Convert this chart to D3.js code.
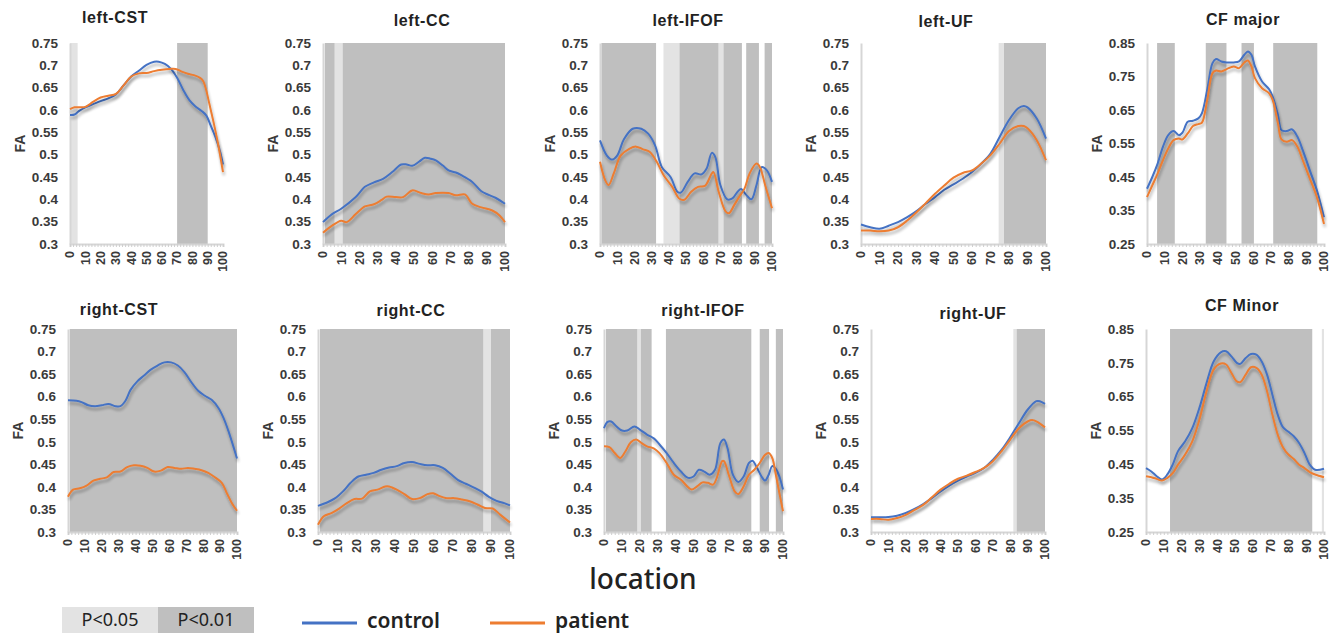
<!DOCTYPE html>
<html>
<head>
<meta charset="utf-8">
<script src="https://cdn.jsdelivr.net/npm/d3@7/dist/d3.min.js"></script>
<style>
  html, body { margin: 0; padding: 0; background: #fff; }
  svg { display: block; }
</style>
</head>
<body>
<svg id="chart" width="1338" height="635"></svg>
<script>
// ---- FA profiles along each tract: [location, FA] ----
const leftCST_control = [[0,.589],[3,.59],[6,.598],[10,.606],[15,.613],[20,.62],[25,.626],[30,.635],[35,.655],[40,.675],[45,.688],[50,.701],[55,.708],[58,.708],[62,.703],[66,.692],[70,.672],[74,.645],[78,.622],[82,.608],[86,.598],[89,.588],[92,.565],[95,.54],[98,.508],[100,.478]];
const leftCST_patient = [[0,.602],[3,.606],[7,.606],[10,.607],[15,.618],[20,.628],[25,.632],[30,.636],[35,.655],[40,.675],[45,.682],[50,.683],[55,.687],[60,.69],[65,.692],[69,.692],[73,.686],[77,.681],[81,.678],[85,.672],[87,.665],[89,.645],[91,.615],[94,.57],[97,.52],[100,.461]];

const leftCC_control = [[0,.349],[5,.367],[10,.379],[18,.405],[23,.428],[28,.438],[33,.446],[38,.461],[43,.478],[46,.478],[49,.475],[53,.485],[56,.493],[59,.491],[62,.487],[66,.475],[69,.465],[73,.46],[76,.454],[82,.439],[87,.418],[91,.41],[95,.403],[100,.39]];
const leftCC_patient = [[0,.325],[5,.341],[10,.352],[13,.349],[18,.367],[23,.384],[28,.389],[32,.398],[35,.406],[40,.405],[44,.405],[49,.42],[54,.414],[58,.411],[62,.414],[69,.414],[73,.409],[78,.411],[82,.39],[87,.382],[93,.375],[97,.364],[100,.349]];

const leftIFOF_control = [[0,.532],[4,.498],[7,.489],[10,.498],[14,.535],[19,.558],[24,.558],[28,.547],[32,.521],[36,.472],[41,.45],[45,.417],[47,.415],[51,.439],[55,.458],[59,.456],[62,.469],[65,.504],[67,.495],[70,.432],[74,.4],[77,.402],[80,.417],[82,.423],[85,.41],[88,.4],[91,.432],[94,.472],[97,.465],[100,.439]];
const leftIFOF_patient = [[0,.484],[3,.443],[5,.432],[8,.458],[12,.498],[17,.513],[21,.518],[25,.512],[29,.506],[33,.484],[37,.454],[42,.428],[46,.402],[49,.399],[53,.417],[57,.428],[61,.43],[65,.458],[66,.461],[69,.417],[73,.373],[75,.369],[78,.387],[81,.406],[84,.424],[87,.458],[91,.48],[93,.472],[96,.432],[100,.38]];

const leftUF_control = [[0,.3435],[5,.3375],[10,.334],[15,.341],[20,.349],[25,.36],[30,.3735],[35,.39],[40,.405],[45,.4215],[50,.4335],[55,.446],[60,.461],[65,.48],[70,.5025],[75,.54],[80,.5775],[85,.604],[88,.609],[90,.606],[95,.581],[100,.536]];
const leftUF_patient = [[0,.33],[5,.33],[10,.3285],[15,.33],[20,.3375],[25,.3525],[30,.371],[35,.3915],[40,.4125],[45,.431],[50,.4485],[55,.459],[60,.465],[65,.48],[70,.499],[75,.525],[80,.553],[85,.564],[88,.564],[90,.559],[95,.5325],[100,.4875]];

const cfMajor_control = [[0,.415],[3,.45],[6,.49],[9,.54],[12,.575],[15,.587],[18,.575],[20,.582],[23,.615],[26,.618],[29,.625],[31,.64],[34,.71],[37,.79],[39,.802],[42,.795],[45,.792],[49,.792],[52,.795],[55,.815],[57,.825],[59,.815],[61,.78],[65,.735],[69,.712],[71,.69],[74,.635],[76,.59],[79,.587],[82,.592],[85,.57],[88,.53],[92,.47],[96,.41],[100,.33]];
const cfMajor_patient = [[0,.39],[3,.425],[6,.46],[9,.5],[12,.535],[15,.56],[18,.565],[20,.562],[23,.58],[26,.602],[29,.608],[31,.612],[34,.68],[37,.76],[39,.768],[42,.765],[45,.772],[49,.78],[52,.775],[55,.792],[57,.798],[59,.78],[61,.745],[65,.715],[69,.7],[71,.68],[74,.61],[76,.562],[79,.555],[82,.56],[85,.54],[88,.5],[92,.445],[96,.39],[100,.31]];

const rightCST_control = [[0,.592],[5,.591],[8,.588],[12,.581],[16,.579],[20,.581],[24,.584],[28,.579],[31,.579],[34,.591],[37,.615],[41,.634],[45,.647],[49,.66],[53,.669],[57,.676],[61,.676],[65,.669],[69,.654],[73,.632],[77,.613],[81,.602],[85,.593],[89,.575],[92,.553],[95,.523],[100,.463]];
const rightCST_patient = [[0,.378],[3,.394],[7,.397],[11,.403],[15,.414],[19,.418],[23,.421],[27,.433],[31,.434],[35,.444],[39,.448],[43,.447],[47,.442],[51,.434],[55,.436],[59,.444],[63,.442],[67,.44],[71,.442],[75,.44],[79,.437],[83,.431],[87,.421],[91,.409],[94,.386],[97,.364],[100,.347]];

const rightCC_control = [[0,.358],[5,.366],[9,.375],[13,.39],[17,.409],[21,.423],[25,.427],[29,.431],[33,.438],[37,.443],[41,.446],[45,.453],[49,.455],[53,.451],[57,.448],[61,.448],[65,.442],[69,.429],[73,.415],[77,.407],[81,.399],[85,.39],[89,.378],[93,.369],[97,.364],[100,.359]];
const rightCC_patient = [[0,.316],[3,.335],[7,.342],[11,.352],[15,.364],[19,.373],[23,.374],[27,.39],[31,.394],[35,.401],[37,.401],[41,.394],[45,.384],[49,.373],[53,.375],[57,.384],[60,.386],[63,.38],[67,.375],[71,.375],[75,.372],[79,.368],[83,.361],[87,.353],[91,.352],[95,.338],[100,.321]];

const rightIFOF_control = [[0,.53],[2,.544],[4,.545],[7,.534],[10,.525],[13,.525],[17,.534],[20,.527],[24,.516],[28,.507],[31,.494],[35,.475],[39,.453],[43,.434],[47,.42],[50,.423],[53,.438],[56,.434],[59,.427],[62,.438],[65,.497],[67,.505],[69,.486],[72,.427],[75,.411],[78,.423],[81,.453],[83,.458],[85,.446],[88,.423],[90,.414],[92,.427],[94,.446],[96,.44],[98,.423],[100,.394]];
const rightIFOF_patient = [[0,.49],[3,.488],[6,.475],[9,.464],[12,.479],[15,.499],[18,.505],[21,.497],[24,.49],[28,.485],[31,.475],[35,.453],[39,.427],[43,.416],[47,.399],[49,.394],[52,.401],[55,.41],[58,.409],[61,.405],[63,.42],[66,.457],[67,.457],[70,.423],[73,.39],[75,.384],[78,.401],[81,.427],[84,.438],[87,.453],[90,.471],[92,.475],[94,.464],[96,.427],[98,.386],[100,.346]];

const rightUF_control = [[0,.3325],[5,.3325],[10,.333],[15,.336],[20,.342],[25,.351],[30,.362],[35,.375],[40,.39],[45,.403],[50,.414],[55,.423],[60,.431],[65,.442],[70,.46],[75,.482],[80,.51],[85,.541],[90,.571],[95,.59],[97,.59],[100,.584]];
const rightUF_patient = [[0,.329],[5,.329],[10,.327],[15,.331],[20,.338],[25,.349],[30,.36],[35,.377],[40,.394],[45,.407],[50,.418],[55,.425],[60,.433],[65,.442],[70,.457],[75,.479],[80,.505],[85,.53],[90,.545],[93,.548],[95,.545],[100,.532]];

const cfMinor_control = [[0,.439],[3,.429],[6,.415],[9,.405],[12,.42],[15,.449],[18,.489],[22,.518],[26,.557],[30,.617],[34,.69],[38,.754],[42,.781],[45,.784],[48,.769],[51,.75],[53,.747],[56,.764],[59,.776],[62,.774],[65,.754],[68,.715],[71,.656],[74,.597],[77,.559],[80,.546],[83,.533],[86,.513],[89,.484],[92,.449],[95,.434],[100,.437]];
const cfMinor_patient = [[0,.415],[3,.412],[6,.407],[9,.402],[12,.41],[15,.424],[18,.449],[22,.479],[26,.518],[30,.582],[34,.666],[38,.73],[42,.748],[45,.745],[48,.72],[51,.695],[53,.693],[56,.715],[59,.737],[62,.735],[65,.715],[68,.666],[71,.597],[74,.538],[77,.5],[80,.479],[83,.466],[86,.449],[89,.439],[92,.427],[95,.42],[100,.412]];

// ---- significant segments along each tract: [from, to] ----
const leftCST_p05 = [[0,5]];          const leftCST_p01 = [[70,90]];
const leftCC_p05 = [[6.4,10.8]];      const leftCC_p01 = [[1,6.4],[10.8,100]];
const leftIFOF_p05 = [[36.9,46.2],[68.9,71.8]];
const leftIFOF_p01 = [[0.8,32.6],[46.2,68.9],[71.8,82.5],[85,92.4],[95.7,100]];
const leftUF_p05 = [[74.4,77.3]];     const leftUF_p01 = [[77.3,100]];
const cfMajor_p05 = [];               const cfMajor_p01 = [[5.7,15.7],[33.2,44.9],[53.4,60.4],[71.3,96.2]];
const rightCST_p05 = [];              const rightCST_p01 = [[1,100]];
const rightCC_p05 = [[86.1,90.1]];    const rightCC_p01 = [[1,86.1],[90.1,100]];
const rightIFOF_p05 = [[18.6,20.6]];
const rightIFOF_p01 = [[1.1,18.6],[20.6,26.6],[34.6,82.3],[87,92.2],[96,100]];
const rightUF_p05 = [[81.8,83.7]];    const rightUF_p01 = [[83.7,100]];
const cfMinor_p05 = [[98.8,100]];     const cfMinor_p01 = [[13.5,93.4]];

// ---- axes ----
const xTicks = [0,10,20,30,40,50,60,70,80,90,100];
const faTicksTract = [0.3,0.35,0.4,0.45,0.5,0.55,0.6,0.65,0.7,0.75];
const faTicksForceps = [0.25,0.35,0.45,0.55,0.65,0.75,0.85];

const titles = ["left-CST","left-CC","left-IFOF","left-UF","CF major",
                "right-CST","right-CC","right-IFOF","right-UF","CF Minor"];
const groups = ["control","patient"];
const sigLabels = ["P<0.05","P<0.01"];

const controls = [leftCST_control,leftCC_control,leftIFOF_control,leftUF_control,cfMajor_control,
                  rightCST_control,rightCC_control,rightIFOF_control,rightUF_control,cfMinor_control];
const patients = [leftCST_patient,leftCC_patient,leftIFOF_patient,leftUF_patient,cfMajor_patient,
                  rightCST_patient,rightCC_patient,rightIFOF_patient,rightUF_patient,cfMinor_patient];
const p05s = [leftCST_p05,leftCC_p05,leftIFOF_p05,leftUF_p05,cfMajor_p05,
              rightCST_p05,rightCC_p05,rightIFOF_p05,rightUF_p05,cfMinor_p05];
const p01s = [leftCST_p01,leftCC_p01,leftIFOF_p01,leftUF_p01,cfMajor_p01,
              rightCST_p01,rightCC_p01,rightIFOF_p01,rightUF_p01,cfMinor_p01];

// ---- layout of the 2 x 5 grid (pixel boxes of each plot area) ----
const rowsY = [[43,244],[329,532]];
const colsX = [[[70,223],[323,505],[600,772],[861,1046],[1147,1324]],
               [[68,237],[318,510],[604,783],[871,1045],[1146,1324]]];
const titlePos = [[115,23],[422,26],[688,26],[946,27],[1243,25],
                  [119,315],[411,316],[703,316],[973,319],[1242,311]];

const COLORS = { control: "#4472C4", patient: "#ED7D31", p01: "#bfbfbf", p05: "#e3e3e3",
                 axis: "#d6d6d6", text: "#3a3a3a" };
const FONT = "'Liberation Sans', Arial, sans-serif";

const svg = d3.select("#chart");

// soft drop shadow under the profile lines
const defs = svg.append("defs");
const f = defs.append("filter").attr("id","lineShadow")
  .attr("filterUnits","userSpaceOnUse").attr("x",0).attr("y",0).attr("width",1338).attr("height",635);
f.append("feGaussianBlur").attr("in","SourceAlpha").attr("stdDeviation",1.7).attr("result","b");
f.append("feOffset").attr("in","b").attr("dx",1).attr("dy",2.5).attr("result","o");
f.append("feComponentTransfer").attr("in","o").attr("result","s")
  .append("feFuncA").attr("type","linear").attr("slope",0.32);
const fm = f.append("feMerge");
fm.append("feMergeNode").attr("in","s");
fm.append("feMergeNode").attr("in","SourceGraphic");

titles.forEach((title, i) => {
  const row = Math.floor(i / 5), col = i % 5;
  const [y0, y1] = rowsY[row];
  const [x0, x1] = colsX[row][col];
  const forceps = (col === 4);
  const yTicks = forceps ? faTicksForceps : faTicksTract;

  const x = d3.scaleLinear().domain([0,100]).range([x0, x1]);
  const y = d3.scaleLinear().domain(d3.extent(yTicks)).range([y1, y0]);

  const g = svg.append("g");

  // significance shading
  g.selectAll("rect.p05").data(p05s[i]).join("rect")
    .attr("x", d => x(d[0])).attr("width", d => x(d[1]) - x(d[0]))
    .attr("y", y0).attr("height", y1 - y0).attr("fill", COLORS.p05);
  g.selectAll("rect.p01").data(p01s[i]).join("rect")
    .attr("x", d => x(d[0])).attr("width", d => x(d[1]) - x(d[0]))
    .attr("y", y0).attr("height", y1 - y0).attr("fill", COLORS.p01);

  // y axis: light rule with labels only
  const yAxis = d3.axisLeft(y).tickValues(yTicks).tickSize(0).tickPadding(12)
    .tickFormat(d => String(+d.toFixed(2)));
  const ya = g.append("g").attr("transform", `translate(${x0},0)`).call(yAxis);
  ya.select(".domain").attr("stroke", COLORS.axis).attr("stroke-width", 2);
  ya.selectAll("text").attr("font-family", FONT).attr("font-weight", "bold")
    .attr("font-size", 13.5).attr("fill", COLORS.text);

  // x axis: light baseline with fine ticks, rotated labels
  const minor = d3.range(0, 101, 2);
  const xa = g.append("g").attr("transform", `translate(0,${y1})`)
    .call(d3.axisBottom(x).tickValues(minor).tickSize(3).tickFormat(""));
  xa.select(".domain").attr("stroke", COLORS.axis).attr("stroke-width", 2);
  xa.selectAll(".tick line").attr("stroke", "#cfcfcf");
  g.selectAll("text.xlab").data(xTicks).join("text")
    .attr("class","xlab")
    .attr("transform", d => `translate(${x(d)},${y1 + 7}) rotate(-90)`)
    .attr("text-anchor","end").attr("dy","0.35em")
    .attr("font-family", FONT).attr("font-weight","bold").attr("font-size", 12.5)
    .attr("fill", COLORS.text).text(d => d);

  // FA label
  g.append("text")
    .attr("transform", `translate(${x0 - 50},${(y0 + y1) / 2}) rotate(-90)`)
    .attr("text-anchor","middle").attr("dy","0.35em")
    .attr("font-family", FONT).attr("font-weight","bold").attr("font-size", 14)
    .attr("fill", COLORS.text).text("FA");

  // title
  g.append("text").attr("x", titlePos[i][0]).attr("y", titlePos[i][1])
    .attr("text-anchor","middle").attr("font-family", FONT).attr("font-weight","bold")
    .attr("font-size", 16).attr("letter-spacing", 0.6).attr("fill", "#222").text(title);

  // profiles
  const line = d3.line().x(d => x(d[0])).y(d => y(d[1])).curve(d3.curveCatmullRom.alpha(0.5));
  [[controls[i], COLORS.control], [patients[i], COLORS.patient]].forEach(([data, c]) => {
    g.append("path").datum(data).attr("d", line)
      .attr("fill","none").attr("stroke", c).attr("stroke-width", 2)
      .attr("stroke-linejoin","round").attr("filter","url(#lineShadow)");
  });
});

// shared x label
svg.append("text").attr("x", 643).attr("y", 589).attr("text-anchor","middle")
  .attr("font-family","'Noto Sans', sans-serif").attr("font-size", 28).attr("font-weight", 500)
  .attr("fill","#222").text("location");

// significance legend
const sigX = d3.scaleBand().domain(sigLabels).range([62, 254]);
const lg = svg.append("g");
lg.selectAll("rect").data(sigLabels).join("rect")
  .attr("x", d => sigX(d)).attr("width", sigX.bandwidth())
  .attr("y", 607).attr("height", 26)
  .attr("fill", (d, k) => k === 0 ? COLORS.p05 : COLORS.p01);
lg.selectAll("text").data(sigLabels).join("text")
  .attr("x", d => sigX(d) + sigX.bandwidth() / 2).attr("y", 626)
  .attr("text-anchor","middle").attr("font-family","'Noto Sans', sans-serif")
  .attr("font-size", 18).attr("fill","#222").text(d => d);

// group legend
const grpX = d3.scalePoint().domain(groups).range([302, 490]);
groups.forEach(gname => {
  const gx = grpX(gname);
  svg.append("line").attr("x1", gx).attr("x2", gx + 55).attr("y1", 623).attr("y2", 623)
    .attr("stroke", COLORS[gname]).attr("stroke-width", 3);
  svg.append("text").attr("x", gx + 65).attr("y", 628)
    .attr("font-family","'Noto Sans', sans-serif").attr("font-size", 21).attr("font-weight", 600)
    .attr("fill","#222").text(gname);
});
</script>
</body>
</html>
